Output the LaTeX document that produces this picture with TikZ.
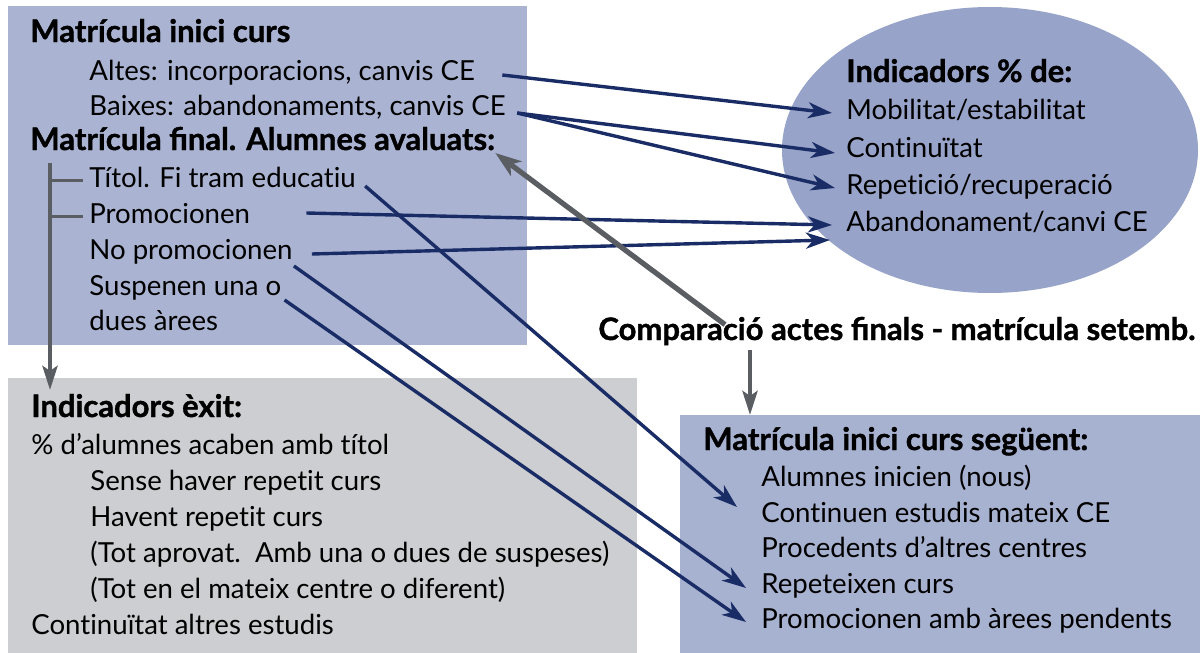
\documentclass[tikz,border=0pt]{standalone}
\usepackage{fontspec}
\setmainfont{Lato}[Ligatures=NoCommon]
\newfontfamily\heavyfont{Lato Bold}[FakeBold=1.2]
\usetikzlibrary{arrows.meta,calc,shapes.geometric}
\definecolor{boxblue}{HTML}{AAB4D2}
\definecolor{ellblue}{HTML}{97A3C8}
\definecolor{boxbluetwo}{HTML}{A7B1D0}
\definecolor{boxgrey}{HTML}{CDCED1}
\definecolor{navy}{HTML}{1A2C66}
\definecolor{darkgrey}{HTML}{5A5D62}
\begin{document}
\begin{tikzpicture}[x=0.5pt,y=-0.5pt,
  txt/.style={anchor=west,inner sep=0pt,font=\fontsize{13.8}{16}\selectfont,text height=0.9em,text depth=0.2em},
  hd/.style={txt,font=\fontsize{15.5}{18}\selectfont\heavyfont},
  panel/.style={draw=none,inner sep=0pt,outer sep=0pt},
  navyarrow/.style={draw=navy,line width=1.7pt,-{Stealth[length=12pt,width=8pt,inset=3.5pt]}},
  greyarrow/.style={draw=darkgrey,line width=2.6pt,-{Stealth[length=13pt,width=9pt,inset=3.5pt]}},
  treearrow/.style={draw=darkgrey,line width=2.3pt,-{Stealth[length=12pt,width=7.5pt,inset=2.5pt]}},
  branch/.style={draw=darkgrey,line width=1.5pt}
]
\useasboundingbox (0,0) rectangle (1200,653);
\fill[white] (0,0) rectangle (1200,653);
% panels
\node[panel,fill=boxblue,minimum width=259.5pt,minimum height=169.5pt] (topbox) at (267.5,175.5) {};
\node[panel,fill=boxgrey,minimum width=314.5pt,minimum height=137.5pt] (greybox) at (322.5,515.5) {};
\node[panel,fill=boxbluetwo,minimum width=260pt,minimum height=119pt] (brbox) at (940,534) {};
\node[panel,ellipse,fill=ellblue,minimum width=208pt,minimum height=143pt] (ell) at (990,150) {};

% top box texts
\node[hd]  (t1) at (30,35)  {Matrícula inici curs};
\node[txt] (t2) at (89,73)  {Altes: incorporacions, canvis CE};
\node[txt] (t3) at (89,108) {Baixes: abandonaments, canvis CE};
\node[hd]  (t4) at (30,143) {Matrícula final. Alumnes avaluats:};
\node[txt] (t5) at (89,180) {Títol. Fi tram educatiu};
\node[txt] (t6) at (89,216) {Promocionen};
\node[txt] (t7) at (89,252) {No promocionen};
\node[txt] (t8) at (89,288) {Suspenen una o};
\node[txt] (t9) at (89,323) {dues àrees};

% ellipse texts
\node[hd]  (e0) at (846,75)  {Indicadors \% de:};
\node[txt] (e1) at (846,112) {Mobilitat/estabilitat};
\node[txt] (e2) at (846,150) {Continuïtat};
\node[txt] (e3) at (846,187) {Repetició/recuperació};
\node[txt] (e4) at (846,224) {Abandonament/canvi CE};

% comparison label
\node[hd] (C) at (598,333) {Comparació actes finals - matrícula setemb.};

% grey box texts
\node[hd]  (g0) at (31,410) {Indicadors èxit:};
\node[txt] (g1) at (31,447) {\% d’alumnes acaben amb títol};
\node[txt] (g2) at (90,483) {Sense haver repetit curs};
\node[txt] (g3) at (90,519) {Havent repetit curs};
\node[txt] (g4) at (90,555) {(Tot aprovat.\ \ Amb una o dues de suspeses)};
\node[txt] (g5) at (90,591) {(Tot en el mateix centre o diferent)};
\node[txt] (g6) at (31,627) {Continuïtat altres estudis};

% bottom right texts
\node[hd]  (r0) at (703,443) {Matrícula inici curs següent:};
\node[txt] (r1) at (761,479) {Alumnes inicien (nous)};
\node[txt] (r2) at (761,515) {Continuen estudis mateix CE};
\node[txt] (r3) at (761,550) {Procedents d’altres centres};
\node[txt] (r4) at (761,586) {Repeteixen curs};
\node[txt] (r5) at (761,621) {Promocionen amb àrees pendents};

% tree
\coordinate (treetop) at (50,163);
\draw[treearrow] (treetop) -- ($(treetop |- greybox.north)+(0,12)$);
\draw[branch] (treetop |- t5.west) -- ($(t5.west)+(-6,0)$);
\draw[branch] (treetop |- t6.west) -- ($(t6.west)+(-6,0)$);

% navy connectors
\draw[navyarrow] ($(t2.east)+(27,2)$) -- ($(e1.west)+(-14,1)$);
\draw[navyarrow] ($(t3.east)+(11,5)$) -- ($(e2.west)+(-11,3)$);
\draw[navyarrow] ($(t3.east)+(11,5)$) -- ($(e3.west)+(-11,1)$);
\draw[navyarrow] ($(t6.east)+(56,-3)$) -- ($(e4.west)+(-14,1)$);
\draw[navyarrow] ($(t7.east)+(19,2)$) -- ($(e4.west)+(-16,16)$);
\draw[navyarrow] ($(t5.east)+(9,6)$) -- ($(r1.west)+(-24,28)$);
\draw[navyarrow] ($(t7.east)+(1,14)$) -- ($(r4.west)+(-15,2)$);
\draw[navyarrow] ($(t8.east)+(3,12)$) -- ($(r5.west)+(-15,1)$);

% grey connectors
\draw[greyarrow] ($(C.north west)+(127,3)$) -- ($(t4.east)+(0,10)$);
\draw[treearrow] ($(C.south west)+(152,6)$) -- ($(brbox.north west)+(70,0)$);
\end{tikzpicture}
\end{document}
